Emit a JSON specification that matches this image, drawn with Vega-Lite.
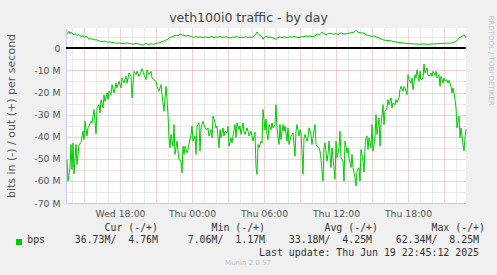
{
"$schema": "https://vega.github.io/schema/vega-lite/v6.json",
"width": 400, "height": 175,
"autosize": {"type": "none"},
"padding": {"left": 66, "top": 28, "right": 31, "bottom": 72},
"background": "#f0f0f0",
"config": {"font": "DejaVu Sans", "view": {"fill": "#ffffff", "stroke": null}},
"title": {"text": "veth100i0 traffic - by day", "font": "DejaVu Sans", "fontSize": 12.5, "fontWeight": "normal", "color": "#444444", "anchor": "middle", "frame": "group", "dx": -17.5, "dy": 24, "baseline": "alphabetic", "offset": 4.5},
"data": {"values": [
{"t":"2025-06-18 13:35","v":-50.3,"s":"in"},{"t":"2025-06-18 13:40","v":-60.1,"s":"in"},{"t":"2025-06-18 13:50","v":-54,"s":"in"},{"t":"2025-06-18 13:55","v":-43.5,"s":"in"},{"t":"2025-06-18 14:00","v":-54.8,"s":"in"},{"t":"2025-06-18 14:05","v":-42.8,"s":"in"},{"t":"2025-06-18 14:10","v":-56.8,"s":"in"},{"t":"2025-06-18 14:20","v":-43.5,"s":"in"},{"t":"2025-06-18 14:25","v":-52.6,"s":"in"},{"t":"2025-06-18 14:35","v":-43.5,"s":"in"},{"t":"2025-06-18 14:45","v":-42.8,"s":"in"},{"t":"2025-06-18 14:55","v":-37.5,"s":"in"},{"t":"2025-06-18 15:00","v":-41.3,"s":"in"},{"t":"2025-06-18 15:05","v":-33,"s":"in"},{"t":"2025-06-18 15:15","v":-39.7,"s":"in"},{"t":"2025-06-18 15:20","v":-36,"s":"in"},{"t":"2025-06-18 15:25","v":-35.2,"s":"in"},{"t":"2025-06-18 15:35","v":-33,"s":"in"},{"t":"2025-06-18 15:40","v":-33.7,"s":"in"},{"t":"2025-06-18 15:50","v":-27.7,"s":"in"},{"t":"2025-06-18 15:55","v":-33,"s":"in"},{"t":"2025-06-18 16:00","v":-38.7,"s":"in"},{"t":"2025-06-18 16:05","v":-27,"s":"in"},{"t":"2025-06-18 16:15","v":-25.5,"s":"in"},{"t":"2025-06-18 16:20","v":-29.2,"s":"in"},{"t":"2025-06-18 16:25","v":-23.2,"s":"in"},{"t":"2025-06-18 16:35","v":-27,"s":"in"},{"t":"2025-06-18 16:40","v":-21,"s":"in"},{"t":"2025-06-18 16:45","v":-24,"s":"in"},{"t":"2025-06-18 16:55","v":-20.2,"s":"in"},{"t":"2025-06-18 17:00","v":-23.2,"s":"in"},{"t":"2025-06-18 17:05","v":-19.4,"s":"in"},{"t":"2025-06-18 17:15","v":-21,"s":"in"},{"t":"2025-06-18 17:20","v":-16.4,"s":"in"},{"t":"2025-06-18 17:30","v":-20.2,"s":"in"},{"t":"2025-06-18 17:40","v":-15.7,"s":"in"},{"t":"2025-06-18 17:45","v":-17.9,"s":"in"},{"t":"2025-06-18 17:55","v":-14.9,"s":"in"},{"t":"2025-06-18 18:05","v":-17.9,"s":"in"},{"t":"2025-06-18 18:10","v":-13.4,"s":"in"},{"t":"2025-06-18 18:20","v":-15.7,"s":"in"},{"t":"2025-06-18 18:30","v":-12.7,"s":"in"},{"t":"2025-06-18 18:35","v":-15.7,"s":"in"},{"t":"2025-06-18 18:45","v":-11.2,"s":"in"},{"t":"2025-06-18 18:55","v":-12.7,"s":"in"},{"t":"2025-06-18 19:00","v":-22.4,"s":"in"},{"t":"2025-06-18 19:10","v":-10.4,"s":"in"},{"t":"2025-06-18 19:20","v":-11.9,"s":"in"},{"t":"2025-06-18 19:25","v":-10.4,"s":"in"},{"t":"2025-06-18 19:35","v":-12.7,"s":"in"},{"t":"2025-06-18 19:45","v":-10.8,"s":"in"},{"t":"2025-06-18 19:50","v":-9.2,"s":"in"},{"t":"2025-06-18 20:00","v":-11.9,"s":"in"},{"t":"2025-06-18 20:10","v":-14.2,"s":"in"},{"t":"2025-06-18 20:15","v":-9.7,"s":"in"},{"t":"2025-06-18 20:25","v":-11.9,"s":"in"},{"t":"2025-06-18 20:35","v":-10.4,"s":"in"},{"t":"2025-06-18 20:40","v":-13.4,"s":"in"},{"t":"2025-06-18 20:50","v":-14.2,"s":"in"},{"t":"2025-06-18 21:00","v":-14.9,"s":"in"},{"t":"2025-06-18 21:05","v":-17.2,"s":"in"},{"t":"2025-06-18 21:15","v":-19.4,"s":"in"},{"t":"2025-06-18 21:25","v":-16.4,"s":"in"},{"t":"2025-06-18 21:30","v":-21,"s":"in"},{"t":"2025-06-18 21:40","v":-28.5,"s":"in"},{"t":"2025-06-18 21:50","v":-17.2,"s":"in"},{"t":"2025-06-18 21:55","v":-23,"s":"in"},{"t":"2025-06-18 22:00","v":-30,"s":"in"},{"t":"2025-06-18 22:05","v":-40.5,"s":"in"},{"t":"2025-06-18 22:10","v":-45,"s":"in"},{"t":"2025-06-18 22:15","v":-39,"s":"in"},{"t":"2025-06-18 22:25","v":-44.3,"s":"in"},{"t":"2025-06-18 22:30","v":-34.5,"s":"in"},{"t":"2025-06-18 22:35","v":-48,"s":"in"},{"t":"2025-06-18 22:45","v":-42,"s":"in"},{"t":"2025-06-18 22:50","v":-46.5,"s":"in"},{"t":"2025-06-18 22:55","v":-50.3,"s":"in"},{"t":"2025-06-18 23:05","v":-51,"s":"in"},{"t":"2025-06-18 23:10","v":-56.3,"s":"in"},{"t":"2025-06-18 23:15","v":-44.3,"s":"in"},{"t":"2025-06-18 23:20","v":-48,"s":"in"},{"t":"2025-06-18 23:25","v":-44.3,"s":"in"},{"t":"2025-06-18 23:35","v":-47.3,"s":"in"},{"t":"2025-06-18 23:40","v":-45.8,"s":"in"},{"t":"2025-06-18 23:45","v":-43.5,"s":"in"},{"t":"2025-06-18 23:55","v":-39,"s":"in"},
{"t":"2025-06-19 00:00","v":-35.2,"s":"in"},{"t":"2025-06-19 00:05","v":-42,"s":"in"},{"t":"2025-06-19 00:15","v":-39.7,"s":"in"},{"t":"2025-06-19 00:20","v":-48,"s":"in"},{"t":"2025-06-19 00:25","v":-35.2,"s":"in"},{"t":"2025-06-19 00:35","v":-33.7,"s":"in"},{"t":"2025-06-19 00:40","v":-46.5,"s":"in"},{"t":"2025-06-19 00:45","v":-36,"s":"in"},{"t":"2025-06-19 00:55","v":-33,"s":"in"},{"t":"2025-06-19 01:00","v":-34.5,"s":"in"},{"t":"2025-06-19 01:05","v":-36,"s":"in"},{"t":"2025-06-19 01:15","v":-36.8,"s":"in"},{"t":"2025-06-19 01:20","v":-36,"s":"in"},{"t":"2025-06-19 01:25","v":-39.7,"s":"in"},{"t":"2025-06-19 01:35","v":-36.8,"s":"in"},{"t":"2025-06-19 01:40","v":-40.5,"s":"in"},{"t":"2025-06-19 01:45","v":-30.7,"s":"in"},{"t":"2025-06-19 01:55","v":-33.7,"s":"in"},{"t":"2025-06-19 02:00","v":-36,"s":"in"},{"t":"2025-06-19 02:05","v":-35.2,"s":"in"},{"t":"2025-06-19 02:15","v":-45,"s":"in"},{"t":"2025-06-19 02:20","v":-36.8,"s":"in"},{"t":"2025-06-19 02:25","v":-40.5,"s":"in"},{"t":"2025-06-19 02:35","v":-36,"s":"in"},{"t":"2025-06-19 02:40","v":-39.7,"s":"in"},{"t":"2025-06-19 02:45","v":-37.5,"s":"in"},{"t":"2025-06-19 02:55","v":-38.3,"s":"in"},{"t":"2025-06-19 03:00","v":-35.2,"s":"in"},{"t":"2025-06-19 03:05","v":-44.3,"s":"in"},{"t":"2025-06-19 03:15","v":-40.5,"s":"in"},{"t":"2025-06-19 03:20","v":-42.8,"s":"in"},{"t":"2025-06-19 03:25","v":-39.7,"s":"in"},{"t":"2025-06-19 03:35","v":-34.5,"s":"in"},{"t":"2025-06-19 03:40","v":-40.5,"s":"in"},{"t":"2025-06-19 03:45","v":-33.7,"s":"in"},{"t":"2025-06-19 03:55","v":-36.8,"s":"in"},{"t":"2025-06-19 04:00","v":-35.2,"s":"in"},{"t":"2025-06-19 04:05","v":-39,"s":"in"},{"t":"2025-06-19 04:15","v":-33.7,"s":"in"},{"t":"2025-06-19 04:20","v":-37.5,"s":"in"},{"t":"2025-06-19 04:25","v":-39,"s":"in"},{"t":"2025-06-19 04:35","v":-36,"s":"in"},{"t":"2025-06-19 04:40","v":-37.5,"s":"in"},{"t":"2025-06-19 04:45","v":-39.7,"s":"in"},{"t":"2025-06-19 04:55","v":-37.5,"s":"in"},{"t":"2025-06-19 05:00","v":-39.7,"s":"in"},{"t":"2025-06-19 05:05","v":-42,"s":"in"},{"t":"2025-06-19 05:15","v":-38,"s":"in"},{"t":"2025-06-19 05:20","v":-54,"s":"in"},{"t":"2025-06-19 05:25","v":-57,"s":"in"},{"t":"2025-06-19 05:30","v":-43.5,"s":"in"},{"t":"2025-06-19 05:35","v":-45,"s":"in"},{"t":"2025-06-19 05:45","v":-42,"s":"in"},{"t":"2025-06-19 05:50","v":-42.8,"s":"in"},{"t":"2025-06-19 05:55","v":-27.7,"s":"in"},{"t":"2025-06-19 06:05","v":-37,"s":"in"},{"t":"2025-06-19 06:10","v":-32,"s":"in"},{"t":"2025-06-19 06:15","v":-39,"s":"in"},{"t":"2025-06-19 06:20","v":-41.3,"s":"in"},{"t":"2025-06-19 06:25","v":-34.5,"s":"in"},{"t":"2025-06-19 06:35","v":-36.8,"s":"in"},{"t":"2025-06-19 06:40","v":-33.7,"s":"in"},{"t":"2025-06-19 06:45","v":-36,"s":"in"},{"t":"2025-06-19 06:55","v":-34.5,"s":"in"},{"t":"2025-06-19 07:00","v":-25.5,"s":"in"},{"t":"2025-06-19 07:05","v":-36,"s":"in"},{"t":"2025-06-19 07:15","v":-43.5,"s":"in"},{"t":"2025-06-19 07:20","v":-34.5,"s":"in"},{"t":"2025-06-19 07:25","v":-41.3,"s":"in"},{"t":"2025-06-19 07:35","v":-34.5,"s":"in"},{"t":"2025-06-19 07:40","v":-37.5,"s":"in"},{"t":"2025-06-19 07:45","v":-35.2,"s":"in"},{"t":"2025-06-19 07:55","v":-42,"s":"in"},{"t":"2025-06-19 08:00","v":-36,"s":"in"},{"t":"2025-06-19 08:05","v":-43.5,"s":"in"},{"t":"2025-06-19 08:15","v":-39.7,"s":"in"},{"t":"2025-06-19 08:20","v":-39,"s":"in"},{"t":"2025-06-19 08:25","v":-38.3,"s":"in"},{"t":"2025-06-19 08:35","v":-48.8,"s":"in"},{"t":"2025-06-19 08:40","v":-37.5,"s":"in"},{"t":"2025-06-19 08:45","v":-34.5,"s":"in"},{"t":"2025-06-19 08:55","v":-39.7,"s":"in"},{"t":"2025-06-19 09:00","v":-36.8,"s":"in"},{"t":"2025-06-19 09:05","v":-38,"s":"in"},{"t":"2025-06-19 09:15","v":-57,"s":"in"},{"t":"2025-06-19 09:20","v":-40.5,"s":"in"},{"t":"2025-06-19 09:25","v":-39,"s":"in"},{"t":"2025-06-19 09:35","v":-42,"s":"in"},{"t":"2025-06-19 09:40","v":-40.5,"s":"in"},{"t":"2025-06-19 09:45","v":-36,"s":"in"},{"t":"2025-06-19 09:55","v":-39,"s":"in"},{"t":"2025-06-19 10:00","v":-43.5,"s":"in"},{"t":"2025-06-19 10:05","v":-40.5,"s":"in"},{"t":"2025-06-19 10:15","v":-34.5,"s":"in"},{"t":"2025-06-19 10:20","v":-43.5,"s":"in"},{"t":"2025-06-19 10:25","v":-44.3,"s":"in"},{"t":"2025-06-19 10:35","v":-45,"s":"in"},{"t":"2025-06-19 10:40","v":-46.5,"s":"in"},{"t":"2025-06-19 10:45","v":-50.3,"s":"in"},{"t":"2025-06-19 10:55","v":-60.1,"s":"in"},{"t":"2025-06-19 11:00","v":-45,"s":"in"},{"t":"2025-06-19 11:05","v":-42.8,"s":"in"},{"t":"2025-06-19 11:15","v":-51,"s":"in"},{"t":"2025-06-19 11:20","v":-48,"s":"in"},{"t":"2025-06-19 11:25","v":-42,"s":"in"},{"t":"2025-06-19 11:35","v":-54,"s":"in"},{"t":"2025-06-19 11:40","v":-45,"s":"in"},{"t":"2025-06-19 11:45","v":-49.5,"s":"in"},{"t":"2025-06-19 11:55","v":-59.3,"s":"in"},{"t":"2025-06-19 12:00","v":-42,"s":"in"},{"t":"2025-06-19 12:05","v":-49.5,"s":"in"},{"t":"2025-06-19 12:15","v":-45,"s":"in"},{"t":"2025-06-19 12:20","v":-37.5,"s":"in"},{"t":"2025-06-19 12:25","v":-49.5,"s":"in"},{"t":"2025-06-19 12:35","v":-51,"s":"in"},{"t":"2025-06-19 12:40","v":-60.1,"s":"in"},{"t":"2025-06-19 12:45","v":-42,"s":"in"},{"t":"2025-06-19 12:55","v":-47.3,"s":"in"},{"t":"2025-06-19 13:00","v":-45,"s":"in"},{"t":"2025-06-19 13:05","v":-49.5,"s":"in"},{"t":"2025-06-19 13:15","v":-54,"s":"in"},{"t":"2025-06-19 13:20","v":-48,"s":"in"},{"t":"2025-06-19 13:25","v":-54,"s":"in"},{"t":"2025-06-19 13:35","v":-58.6,"s":"in"},{"t":"2025-06-19 13:40","v":-62.3,"s":"in"},{"t":"2025-06-19 13:45","v":-55.6,"s":"in"},{"t":"2025-06-19 13:55","v":-54,"s":"in"},{"t":"2025-06-19 14:00","v":-60.1,"s":"in"},{"t":"2025-06-19 14:05","v":-45.8,"s":"in"},{"t":"2025-06-19 14:15","v":-51,"s":"in"},{"t":"2025-06-19 14:20","v":-56,"s":"in"},{"t":"2025-06-19 14:25","v":-45,"s":"in"},{"t":"2025-06-19 14:30","v":-40.5,"s":"in"},{"t":"2025-06-19 14:35","v":-39.7,"s":"in"},{"t":"2025-06-19 14:40","v":-45.8,"s":"in"},{"t":"2025-06-19 14:45","v":-40.5,"s":"in"},{"t":"2025-06-19 14:55","v":-45,"s":"in"},{"t":"2025-06-19 15:00","v":-34.5,"s":"in"},{"t":"2025-06-19 15:05","v":-46.5,"s":"in"},{"t":"2025-06-19 15:15","v":-40,"s":"in"},{"t":"2025-06-19 15:20","v":-30,"s":"in"},{"t":"2025-06-19 15:25","v":-39,"s":"in"},{"t":"2025-06-19 15:35","v":-31.5,"s":"in"},{"t":"2025-06-19 15:40","v":-44.3,"s":"in"},{"t":"2025-06-19 15:45","v":-34.5,"s":"in"},{"t":"2025-06-19 15:55","v":-25.5,"s":"in"},{"t":"2025-06-19 16:00","v":-34.5,"s":"in"},{"t":"2025-06-19 16:05","v":-28.5,"s":"in"},{"t":"2025-06-19 16:15","v":-27,"s":"in"},{"t":"2025-06-19 16:20","v":-23.2,"s":"in"},{"t":"2025-06-19 16:25","v":-25.5,"s":"in"},{"t":"2025-06-19 16:35","v":-22.4,"s":"in"},{"t":"2025-06-19 16:40","v":-27,"s":"in"},{"t":"2025-06-19 16:45","v":-24.7,"s":"in"},{"t":"2025-06-19 16:55","v":-25.5,"s":"in"},{"t":"2025-06-19 17:00","v":-23.2,"s":"in"},{"t":"2025-06-19 17:05","v":-24.5,"s":"in"},{"t":"2025-06-19 17:15","v":-22.4,"s":"in"},{"t":"2025-06-19 17:20","v":-18.7,"s":"in"},{"t":"2025-06-19 17:25","v":-17.2,"s":"in"},{"t":"2025-06-19 17:35","v":-19.4,"s":"in"},{"t":"2025-06-19 17:40","v":-17.2,"s":"in"},{"t":"2025-06-19 17:45","v":-17.9,"s":"in"},{"t":"2025-06-19 17:55","v":-21,"s":"in"},{"t":"2025-06-19 18:00","v":-11.9,"s":"in"},{"t":"2025-06-19 18:05","v":-14.2,"s":"in"},{"t":"2025-06-19 18:15","v":-15.7,"s":"in"},{"t":"2025-06-19 18:20","v":-13.4,"s":"in"},{"t":"2025-06-19 18:25","v":-18.7,"s":"in"},{"t":"2025-06-19 18:35","v":-11.9,"s":"in"},{"t":"2025-06-19 18:40","v":-13.4,"s":"in"},{"t":"2025-06-19 18:45","v":-9.7,"s":"in"},{"t":"2025-06-19 18:55","v":-14.9,"s":"in"},{"t":"2025-06-19 19:00","v":-10.4,"s":"in"},{"t":"2025-06-19 19:05","v":-14.2,"s":"in"},{"t":"2025-06-19 19:15","v":-13.5,"s":"in"},{"t":"2025-06-19 19:20","v":-7.1,"s":"in"},{"t":"2025-06-19 19:25","v":-11.2,"s":"in"},{"t":"2025-06-19 19:35","v":-8.9,"s":"in"},{"t":"2025-06-19 19:40","v":-11.9,"s":"in"},{"t":"2025-06-19 19:45","v":-12.7,"s":"in"},{"t":"2025-06-19 19:55","v":-11.2,"s":"in"},{"t":"2025-06-19 20:00","v":-12.7,"s":"in"},{"t":"2025-06-19 20:05","v":-10.4,"s":"in"},{"t":"2025-06-19 20:15","v":-12.2,"s":"in"},{"t":"2025-06-19 20:20","v":-10.4,"s":"in"},{"t":"2025-06-19 20:25","v":-13.4,"s":"in"},{"t":"2025-06-19 20:35","v":-11.9,"s":"in"},{"t":"2025-06-19 20:40","v":-17.2,"s":"in"},{"t":"2025-06-19 20:45","v":-12.7,"s":"in"},{"t":"2025-06-19 20:55","v":-15.7,"s":"in"},{"t":"2025-06-19 21:00","v":-13.4,"s":"in"},{"t":"2025-06-19 21:05","v":-14.9,"s":"in"},{"t":"2025-06-19 21:15","v":-14.2,"s":"in"},{"t":"2025-06-19 21:20","v":-15.7,"s":"in"},{"t":"2025-06-19 21:25","v":-14.5,"s":"in"},{"t":"2025-06-19 21:35","v":-17.2,"s":"in"},{"t":"2025-06-19 21:40","v":-20.2,"s":"in"},{"t":"2025-06-19 21:45","v":-17.9,"s":"in"},{"t":"2025-06-19 21:55","v":-23.2,"s":"in"},{"t":"2025-06-19 22:00","v":-27,"s":"in"},{"t":"2025-06-19 22:05","v":-36,"s":"in"},{"t":"2025-06-19 22:15","v":-30.7,"s":"in"},{"t":"2025-06-19 22:20","v":-40.5,"s":"in"},{"t":"2025-06-19 22:25","v":-36,"s":"in"},{"t":"2025-06-19 22:35","v":-43.5,"s":"in"},{"t":"2025-06-19 22:40","v":-46.5,"s":"in"},{"t":"2025-06-19 22:45","v":-40.5,"s":"in"},{"t":"2025-06-19 22:50","v":-36.7,"s":"in"},
{"t":"2025-06-18 13:35","v":6.8,"s":"out"},{"t":"2025-06-18 13:40","v":7.0,"s":"out"},{"t":"2025-06-18 13:45","v":7.7,"s":"out"},{"t":"2025-06-18 13:50","v":6.5,"s":"out"},{"t":"2025-06-18 13:55","v":7.4,"s":"out"},{"t":"2025-06-18 14:00","v":7.0,"s":"out"},{"t":"2025-06-18 14:10","v":6.1,"s":"out"},{"t":"2025-06-18 14:15","v":6.6,"s":"out"},{"t":"2025-06-18 14:25","v":5.9,"s":"out"},{"t":"2025-06-18 14:35","v":6.1,"s":"out"},{"t":"2025-06-18 14:45","v":5.4,"s":"out"},{"t":"2025-06-18 14:55","v":5.6,"s":"out"},{"t":"2025-06-18 15:00","v":5.0,"s":"out"},{"t":"2025-06-18 15:10","v":5.6,"s":"out"},{"t":"2025-06-18 15:20","v":4.6,"s":"out"},{"t":"2025-06-18 15:25","v":4.3,"s":"out"},{"t":"2025-06-18 15:35","v":4.4,"s":"out"},{"t":"2025-06-18 15:50","v":3.9,"s":"out"},{"t":"2025-06-18 16:05","v":3.8,"s":"out"},{"t":"2025-06-18 16:20","v":3.2,"s":"out"},{"t":"2025-06-18 16:35","v":3.0,"s":"out"},{"t":"2025-06-18 16:45","v":3.3,"s":"out"},{"t":"2025-06-18 16:55","v":2.8,"s":"out"},{"t":"2025-06-18 17:10","v":2.9,"s":"out"},{"t":"2025-06-18 17:30","v":2.5,"s":"out"},{"t":"2025-06-18 17:45","v":2.3,"s":"out"},{"t":"2025-06-18 18:00","v":2.4,"s":"out"},{"t":"2025-06-18 18:15","v":2.1,"s":"out"},{"t":"2025-06-18 18:30","v":2.4,"s":"out"},{"t":"2025-06-18 18:50","v":2.2,"s":"out"},{"t":"2025-06-18 19:05","v":1.9,"s":"out"},{"t":"2025-06-18 19:20","v":2.2,"s":"out"},{"t":"2025-06-18 19:40","v":1.9,"s":"out"},{"t":"2025-06-18 19:55","v":1.4,"s":"out"},{"t":"2025-06-18 20:10","v":2.3,"s":"out"},{"t":"2025-06-18 20:20","v":1.8,"s":"out"},{"t":"2025-06-18 20:35","v":2.0,"s":"out"},{"t":"2025-06-18 20:50","v":1.9,"s":"out"},{"t":"2025-06-18 21:05","v":2.4,"s":"out"},{"t":"2025-06-18 21:20","v":2.5,"s":"out"},{"t":"2025-06-18 21:30","v":3.2,"s":"out"},{"t":"2025-06-18 21:40","v":3.2,"s":"out"},{"t":"2025-06-18 21:45","v":3.6,"s":"out"},{"t":"2025-06-18 21:55","v":3.9,"s":"out"},{"t":"2025-06-18 22:00","v":4.2,"s":"out"},{"t":"2025-06-18 22:10","v":5.0,"s":"out"},{"t":"2025-06-18 22:20","v":5.2,"s":"out"},{"t":"2025-06-18 22:30","v":5.6,"s":"out"},{"t":"2025-06-18 22:40","v":5.9,"s":"out"},{"t":"2025-06-18 22:50","v":5.7,"s":"out"},{"t":"2025-06-18 23:00","v":6.5,"s":"out"},{"t":"2025-06-18 23:10","v":6.0,"s":"out"},{"t":"2025-06-18 23:20","v":5.9,"s":"out"},{"t":"2025-06-18 23:30","v":5.6,"s":"out"},{"t":"2025-06-18 23:40","v":5.8,"s":"out"},{"t":"2025-06-18 23:50","v":5.6,"s":"out"},
{"t":"2025-06-19 00:00","v":5.2,"s":"out"},{"t":"2025-06-19 00:10","v":5.0,"s":"out"},{"t":"2025-06-19 00:20","v":5.3,"s":"out"},{"t":"2025-06-19 00:30","v":5.0,"s":"out"},{"t":"2025-06-19 00:40","v":5.2,"s":"out"},{"t":"2025-06-19 00:50","v":4.9,"s":"out"},{"t":"2025-06-19 01:00","v":5.0,"s":"out"},{"t":"2025-06-19 01:10","v":5.2,"s":"out"},{"t":"2025-06-19 01:20","v":4.8,"s":"out"},{"t":"2025-06-19 01:30","v":5.1,"s":"out"},{"t":"2025-06-19 01:40","v":5.3,"s":"out"},{"t":"2025-06-19 01:50","v":4.9,"s":"out"},{"t":"2025-06-19 02:00","v":5.1,"s":"out"},{"t":"2025-06-19 02:10","v":5.0,"s":"out"},{"t":"2025-06-19 02:20","v":5.4,"s":"out"},{"t":"2025-06-19 02:30","v":5.0,"s":"out"},{"t":"2025-06-19 02:40","v":5.0,"s":"out"},{"t":"2025-06-19 02:50","v":5.2,"s":"out"},{"t":"2025-06-19 03:00","v":4.9,"s":"out"},{"t":"2025-06-19 03:10","v":4.7,"s":"out"},{"t":"2025-06-19 03:20","v":5.1,"s":"out"},{"t":"2025-06-19 03:30","v":5.0,"s":"out"},{"t":"2025-06-19 03:40","v":5.3,"s":"out"},{"t":"2025-06-19 03:50","v":5.1,"s":"out"},{"t":"2025-06-19 04:00","v":4.9,"s":"out"},{"t":"2025-06-19 04:10","v":5.0,"s":"out"},{"t":"2025-06-19 04:20","v":5.0,"s":"out"},{"t":"2025-06-19 04:30","v":5.2,"s":"out"},{"t":"2025-06-19 04:40","v":4.9,"s":"out"},{"t":"2025-06-19 04:50","v":5.1,"s":"out"},{"t":"2025-06-19 05:00","v":5.0,"s":"out"},{"t":"2025-06-19 05:10","v":5.5,"s":"out"},{"t":"2025-06-19 05:20","v":6.5,"s":"out"},{"t":"2025-06-19 05:25","v":7.4,"s":"out"},{"t":"2025-06-19 05:30","v":6.6,"s":"out"},{"t":"2025-06-19 05:35","v":6.1,"s":"out"},{"t":"2025-06-19 05:45","v":5.8,"s":"out"},{"t":"2025-06-19 05:50","v":5.2,"s":"out"},{"t":"2025-06-19 05:55","v":4.1,"s":"out"},{"t":"2025-06-19 06:00","v":5.0,"s":"out"},{"t":"2025-06-19 06:10","v":5.4,"s":"out"},{"t":"2025-06-19 06:20","v":5.0,"s":"out"},{"t":"2025-06-19 06:30","v":5.1,"s":"out"},{"t":"2025-06-19 06:40","v":4.8,"s":"out"},{"t":"2025-06-19 06:50","v":4.5,"s":"out"},{"t":"2025-06-19 07:00","v":4.1,"s":"out"},{"t":"2025-06-19 07:10","v":4.8,"s":"out"},{"t":"2025-06-19 07:20","v":5.1,"s":"out"},{"t":"2025-06-19 07:30","v":4.8,"s":"out"},{"t":"2025-06-19 07:40","v":5.2,"s":"out"},{"t":"2025-06-19 07:50","v":4.9,"s":"out"},{"t":"2025-06-19 08:00","v":5.0,"s":"out"},{"t":"2025-06-19 08:10","v":5.3,"s":"out"},{"t":"2025-06-19 08:20","v":5.0,"s":"out"},{"t":"2025-06-19 08:30","v":5.4,"s":"out"},{"t":"2025-06-19 08:40","v":5.1,"s":"out"},{"t":"2025-06-19 08:50","v":4.9,"s":"out"},{"t":"2025-06-19 09:00","v":5.0,"s":"out"},{"t":"2025-06-19 09:10","v":5.3,"s":"out"},{"t":"2025-06-19 09:20","v":5.2,"s":"out"},{"t":"2025-06-19 09:30","v":5.6,"s":"out"},{"t":"2025-06-19 09:40","v":5.4,"s":"out"},{"t":"2025-06-19 09:50","v":5.6,"s":"out"},{"t":"2025-06-19 10:00","v":5.3,"s":"out"},{"t":"2025-06-19 10:10","v":5.4,"s":"out"},{"t":"2025-06-19 10:20","v":6.0,"s":"out"},{"t":"2025-06-19 10:25","v":6.5,"s":"out"},{"t":"2025-06-19 10:35","v":6.0,"s":"out"},{"t":"2025-06-19 10:45","v":6.8,"s":"out"},{"t":"2025-06-19 10:50","v":7.4,"s":"out"},{"t":"2025-06-19 11:00","v":6.6,"s":"out"},{"t":"2025-06-19 11:10","v":6.1,"s":"out"},{"t":"2025-06-19 11:20","v":6.6,"s":"out"},{"t":"2025-06-19 11:35","v":6.9,"s":"out"},{"t":"2025-06-19 11:45","v":6.4,"s":"out"},{"t":"2025-06-19 12:00","v":6.6,"s":"out"},{"t":"2025-06-19 12:10","v":6.3,"s":"out"},{"t":"2025-06-19 12:25","v":7.0,"s":"out"},{"t":"2025-06-19 12:35","v":6.6,"s":"out"},{"t":"2025-06-19 12:50","v":6.5,"s":"out"},{"t":"2025-06-19 13:00","v":6.8,"s":"out"},{"t":"2025-06-19 13:15","v":7.0,"s":"out"},{"t":"2025-06-19 13:25","v":7.2,"s":"out"},{"t":"2025-06-19 13:35","v":7.6,"s":"out"},{"t":"2025-06-19 13:40","v":8.2,"s":"out"},{"t":"2025-06-19 13:50","v":7.3,"s":"out"},{"t":"2025-06-19 14:05","v":7.0,"s":"out"},{"t":"2025-06-19 14:20","v":6.9,"s":"out"},{"t":"2025-06-19 14:30","v":6.0,"s":"out"},{"t":"2025-06-19 14:40","v":5.9,"s":"out"},{"t":"2025-06-19 14:50","v":5.6,"s":"out"},{"t":"2025-06-19 15:00","v":5.4,"s":"out"},{"t":"2025-06-19 15:10","v":5.6,"s":"out"},{"t":"2025-06-19 15:25","v":5.0,"s":"out"},{"t":"2025-06-19 15:40","v":4.5,"s":"out"},{"t":"2025-06-19 16:00","v":3.7,"s":"out"},{"t":"2025-06-19 16:15","v":3.6,"s":"out"},{"t":"2025-06-19 16:35","v":3.4,"s":"out"},{"t":"2025-06-19 16:50","v":3.0,"s":"out"},{"t":"2025-06-19 17:05","v":2.8,"s":"out"},{"t":"2025-06-19 17:20","v":2.6,"s":"out"},{"t":"2025-06-19 17:40","v":2.4,"s":"out"},{"t":"2025-06-19 17:55","v":2.2,"s":"out"},{"t":"2025-06-19 18:15","v":2.1,"s":"out"},{"t":"2025-06-19 18:30","v":2.0,"s":"out"},{"t":"2025-06-19 18:50","v":1.9,"s":"out"},{"t":"2025-06-19 19:05","v":1.9,"s":"out"},{"t":"2025-06-19 19:20","v":2.0,"s":"out"},{"t":"2025-06-19 19:35","v":1.8,"s":"out"},{"t":"2025-06-19 19:55","v":1.9,"s":"out"},{"t":"2025-06-19 20:10","v":2.0,"s":"out"},{"t":"2025-06-19 20:25","v":2.1,"s":"out"},{"t":"2025-06-19 20:45","v":2.2,"s":"out"},{"t":"2025-06-19 21:00","v":2.3,"s":"out"},{"t":"2025-06-19 21:20","v":2.3,"s":"out"},{"t":"2025-06-19 21:35","v":2.4,"s":"out"},{"t":"2025-06-19 21:45","v":2.6,"s":"out"},{"t":"2025-06-19 22:00","v":3.2,"s":"out"},{"t":"2025-06-19 22:10","v":4.0,"s":"out"},{"t":"2025-06-19 22:15","v":4.7,"s":"out"},{"t":"2025-06-19 22:25","v":5.2,"s":"out"},{"t":"2025-06-19 22:30","v":5.4,"s":"out"},{"t":"2025-06-19 22:40","v":6.1,"s":"out"},{"t":"2025-06-19 22:45","v":5.6,"s":"out"},{"t":"2025-06-19 22:50","v":4.8,"s":"out"}
]},
"layer": [
{
"transform": [{"filter": "datum.s === 'in'"}],
"mark": {"type": "line", "strokeWidth": 1, "color": "#00cc00"},
"encoding": {
"x": {"field": "t", "type": "temporal",
"scale": {"domain": [{"year": 2025, "month": 6, "date": 18, "hours": 13, "minutes": 30}, {"year": 2025, "month": 6, "date": 19, "hours": 22, "minutes": 50}], "nice": false},
"axis": {"orient": "bottom", "grid": true,
"values": [{"year":2025,"month":6,"date":18,"hours":14},{"year":2025,"month":6,"date":18,"hours":15},{"year":2025,"month":6,"date":18,"hours":16},{"year":2025,"month":6,"date":18,"hours":17},{"year":2025,"month":6,"date":18,"hours":18},{"year":2025,"month":6,"date":18,"hours":19},{"year":2025,"month":6,"date":18,"hours":20},{"year":2025,"month":6,"date":18,"hours":21},{"year":2025,"month":6,"date":18,"hours":22},{"year":2025,"month":6,"date":18,"hours":23},{"year":2025,"month":6,"date":19,"hours":0},{"year":2025,"month":6,"date":19,"hours":1},{"year":2025,"month":6,"date":19,"hours":2},{"year":2025,"month":6,"date":19,"hours":3},{"year":2025,"month":6,"date":19,"hours":4},{"year":2025,"month":6,"date":19,"hours":5},{"year":2025,"month":6,"date":19,"hours":6},{"year":2025,"month":6,"date":19,"hours":7},{"year":2025,"month":6,"date":19,"hours":8},{"year":2025,"month":6,"date":19,"hours":9},{"year":2025,"month":6,"date":19,"hours":10},{"year":2025,"month":6,"date":19,"hours":11},{"year":2025,"month":6,"date":19,"hours":12},{"year":2025,"month":6,"date":19,"hours":13},{"year":2025,"month":6,"date":19,"hours":14},{"year":2025,"month":6,"date":19,"hours":15},{"year":2025,"month":6,"date":19,"hours":16},{"year":2025,"month":6,"date":19,"hours":17},{"year":2025,"month":6,"date":19,"hours":18},{"year":2025,"month":6,"date":19,"hours":19},{"year":2025,"month":6,"date":19,"hours":20},{"year":2025,"month":6,"date":19,"hours":21},{"year":2025,"month":6,"date":19,"hours":22}],
"gridColor": {"condition": {"test": "hours(datum.value) % 3 === 0", "value": "#eba3a3"}, "value": "#d4d4d4"},
"gridDash": [1, 1], "gridWidth": 1, "ticks": false, "domainColor": "#c8c8f0", "domainWidth": 1,
"labelExpr": "hours(datum.value) % 6 === 0 ? timeFormat(datum.value, '%a %H:%M') : ''",
"labelOverlap": false, "labelFont": "DejaVu Sans", "labelFontSize": 9.3, "labelColor": "#555555", "labelPadding": 6, "labelFlush": false,
"title": ["\u200b\u00a0\u00a0\u00a0\u00a0\u00a0\u00a0\u00a0\u00a0\u00a0\u00a0\u00a0\u00a0\u00a0Cur\u00a0(-/+)\u00a0\u00a0\u00a0\u00a0\u00a0\u00a0\u00a0\u00a0\u00a0Min\u00a0(-/+)\u00a0\u00a0\u00a0\u00a0\u00a0\u00a0\u00a0\u00a0\u00a0\u00a0Avg\u00a0(-/+)\u00a0\u00a0\u00a0\u00a0\u00a0\u00a0\u00a0\u00a0\u00a0Max\u00a0(-/+)",
"bps\u00a0\u00a0\u00a0\u00a0\u00a036.73M/\u00a0\u00a04.76M\u00a0\u00a0\u00a0\u00a0\u00a07.06M/\u00a0\u00a01.17M\u00a0\u00a0\u00a0\u00a033.18M/\u00a0\u00a04.25M\u00a0\u00a0\u00a0\u00a062.34M/\u00a0\u00a08.25M",
"\u200b\u00a0\u00a0\u00a0\u00a0\u00a0\u00a0\u00a0\u00a0\u00a0\u00a0\u00a0\u00a0\u00a0\u00a0\u00a0\u00a0\u00a0\u00a0\u00a0\u00a0\u00a0\u00a0\u00a0\u00a0\u00a0\u00a0\u00a0\u00a0\u00a0\u00a0\u00a0\u00a0\u00a0\u00a0\u00a0\u00a0\u00a0\u00a0\u00a0Last\u00a0update:\u00a0Thu\u00a0Jun\u00a019\u00a022:45:12\u00a02025"],
"titleFont": "DejaVu Sans Mono", "titleFontSize": 9.9, "titleFontWeight": "normal", "titleColor": "#333333",
"titleAlign": "left", "titleBaseline": "alphabetic", "titleLineHeight": 12.2, "titleX": -39.3, "titleY": 27.8}},
"y": {"field": "v", "type": "quantitative",
"scale": {"domain": [-70, 9.2], "nice": false, "zero": false},
"axis": {"orient": "left", "values": [-70, -65, -60, -55, -50, -45, -40, -35, -30, -25, -20, -15, -10, -5, 0, 5], "grid": true,
"gridColor": {"condition": {"test": "datum.value % 10 === 0", "value": "#eba3a3"}, "value": "#d4d4d4"},
"gridDash": [1, 1], "gridWidth": 1, "ticks": false, "domainColor": "#c8c8f0",
"labelExpr": "datum.value === 0 ? '0' : (datum.value % 10 === 0 ? datum.value + ' M' : '')",
"labelOverlap": false, "labelFont": "DejaVu Sans", "labelFontSize": 9.3, "labelColor": "#555555", "labelPadding": 6, "labelFlush": false,
"title": "bits in (-) / out (+) per second", "titleFont": "DejaVu Sans", "titleFontSize": 11, "titleFontWeight": "normal", "titleColor": "#555555",
"titleAngle": -90, "titleAlign": "center", "titleBaseline": "middle", "titleX": -55, "titleY": 87.5}},
"color": {"datum": "bps", "scale": {"range": ["#00cc00"]},
"legend": {"orient": "none", "legendX": -52, "legendY": 209, "title": null, "padding": 0, "symbolType": "square", "symbolSize": 36, "symbolFillColor": "#00cc00", "symbolStrokeColor": "#00cc00", "symbolStrokeWidth": 0, "labelExpr": "''"}}
}
},
{
"transform": [{"filter": "datum.s === 'out'"}],
"mark": {"type": "line", "strokeWidth": 1, "color": "#00cc00"},
"encoding": {
"x": {"field": "t", "type": "temporal",
"axis": {"orient": "top", "grid": false, "labels": false, "ticks": false, "domain": false,
"title": "Munin 2.0.57", "titleFont": "DejaVu Sans", "titleFontSize": 7, "titleFontWeight": "normal", "titleColor": "#c4c4c4",
"titleAlign": "center", "titleBaseline": "middle", "titleX": 181.5, "titleY": 234}},
"y": {"field": "v", "type": "quantitative",
"axis": {"orient": "right", "grid": false, "labels": false, "ticks": false, "domain": false,
"title": "RRDTOOL / TOBI OETIKER", "titleFont": "DejaVu Sans", "titleFontSize": 7, "titleFontWeight": "normal", "titleColor": "#c4c4c4",
"titleAngle": 90, "titleAlign": "left", "titleBaseline": "middle", "titleX": 24, "titleY": -13}}
}
},
{
"mark": {"type": "rule", "color": "#000000", "strokeWidth": 1},
"encoding": {"y": {"datum": 0, "type": "quantitative", "axis": null}}
}
],
"resolve": {"axis": {"x": "independent", "y": "independent"}}
}
